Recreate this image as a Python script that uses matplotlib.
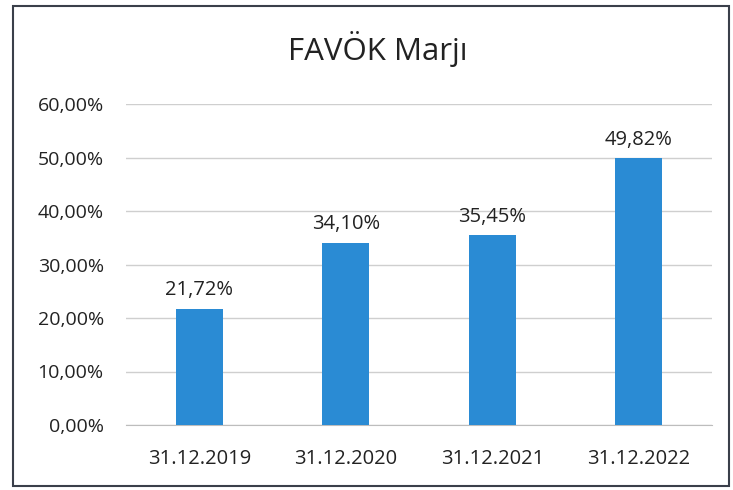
import matplotlib.pyplot as plt
from matplotlib.patches import Rectangle

categories = ["31.12.2019", "31.12.2020", "31.12.2021", "31.12.2022"]
values = [21.72, 34.10, 35.45, 49.82]
value_labels = ["21,72%", "34,10%", "35,45%", "49,82%"]
yticks = [0, 10, 20, 30, 40, 50, 60]
ytick_labels = ["0,00%", "10,00%", "20,00%", "30,00%", "40,00%", "50,00%", "60,00%"]

plt.rcParams['font.family'] = ['Open Sans', 'DejaVu Sans']

fig = plt.figure(figsize=(7.33, 4.90), dpi=100)
# chart border
fig.patches.append(Rectangle((13 / 733, 1 - 486 / 490), 716 / 733, 480 / 490,
                             transform=fig.transFigure, fill=False,
                             edgecolor="#3a3f4a", linewidth=1.5))

ax = fig.add_axes([126 / 733, 1 - 425 / 490, 586 / 733, 321 / 490])
x = range(len(categories))
ax.bar(x, values, width=0.32, color="#2a8bd4", zorder=3)
for i, v in enumerate(values):
    ax.text(i, v + 1.6, value_labels[i], ha="center", va="bottom", fontsize=14.5, color="#222222")

ax.set_xlim(-0.5, 3.5)
ax.set_ylim(0, 60)
ax.set_yticks(yticks)
ax.set_yticklabels(ytick_labels, fontsize=14, color="#222222")
ax.set_xticks(list(x))
ax.set_xticklabels(categories, fontsize=14.5, color="#222222")
ax.yaxis.grid(True, color="#cfcfcf", linewidth=1, zorder=0)
ax.tick_params(length=0)
ax.tick_params(axis="y", pad=16)
ax.tick_params(axis="x", pad=17)
for s in ["top", "right", "left"]:
    ax.spines[s].set_visible(False)
ax.spines["bottom"].set_color("#bdbdbd")

fig.text(378 / 733, 1 - 49 / 490, "FAVÖK Marjı", ha="center", va="center", fontsize=22.5, color="#222222")

fig.savefig("out.png", dpi=100)
